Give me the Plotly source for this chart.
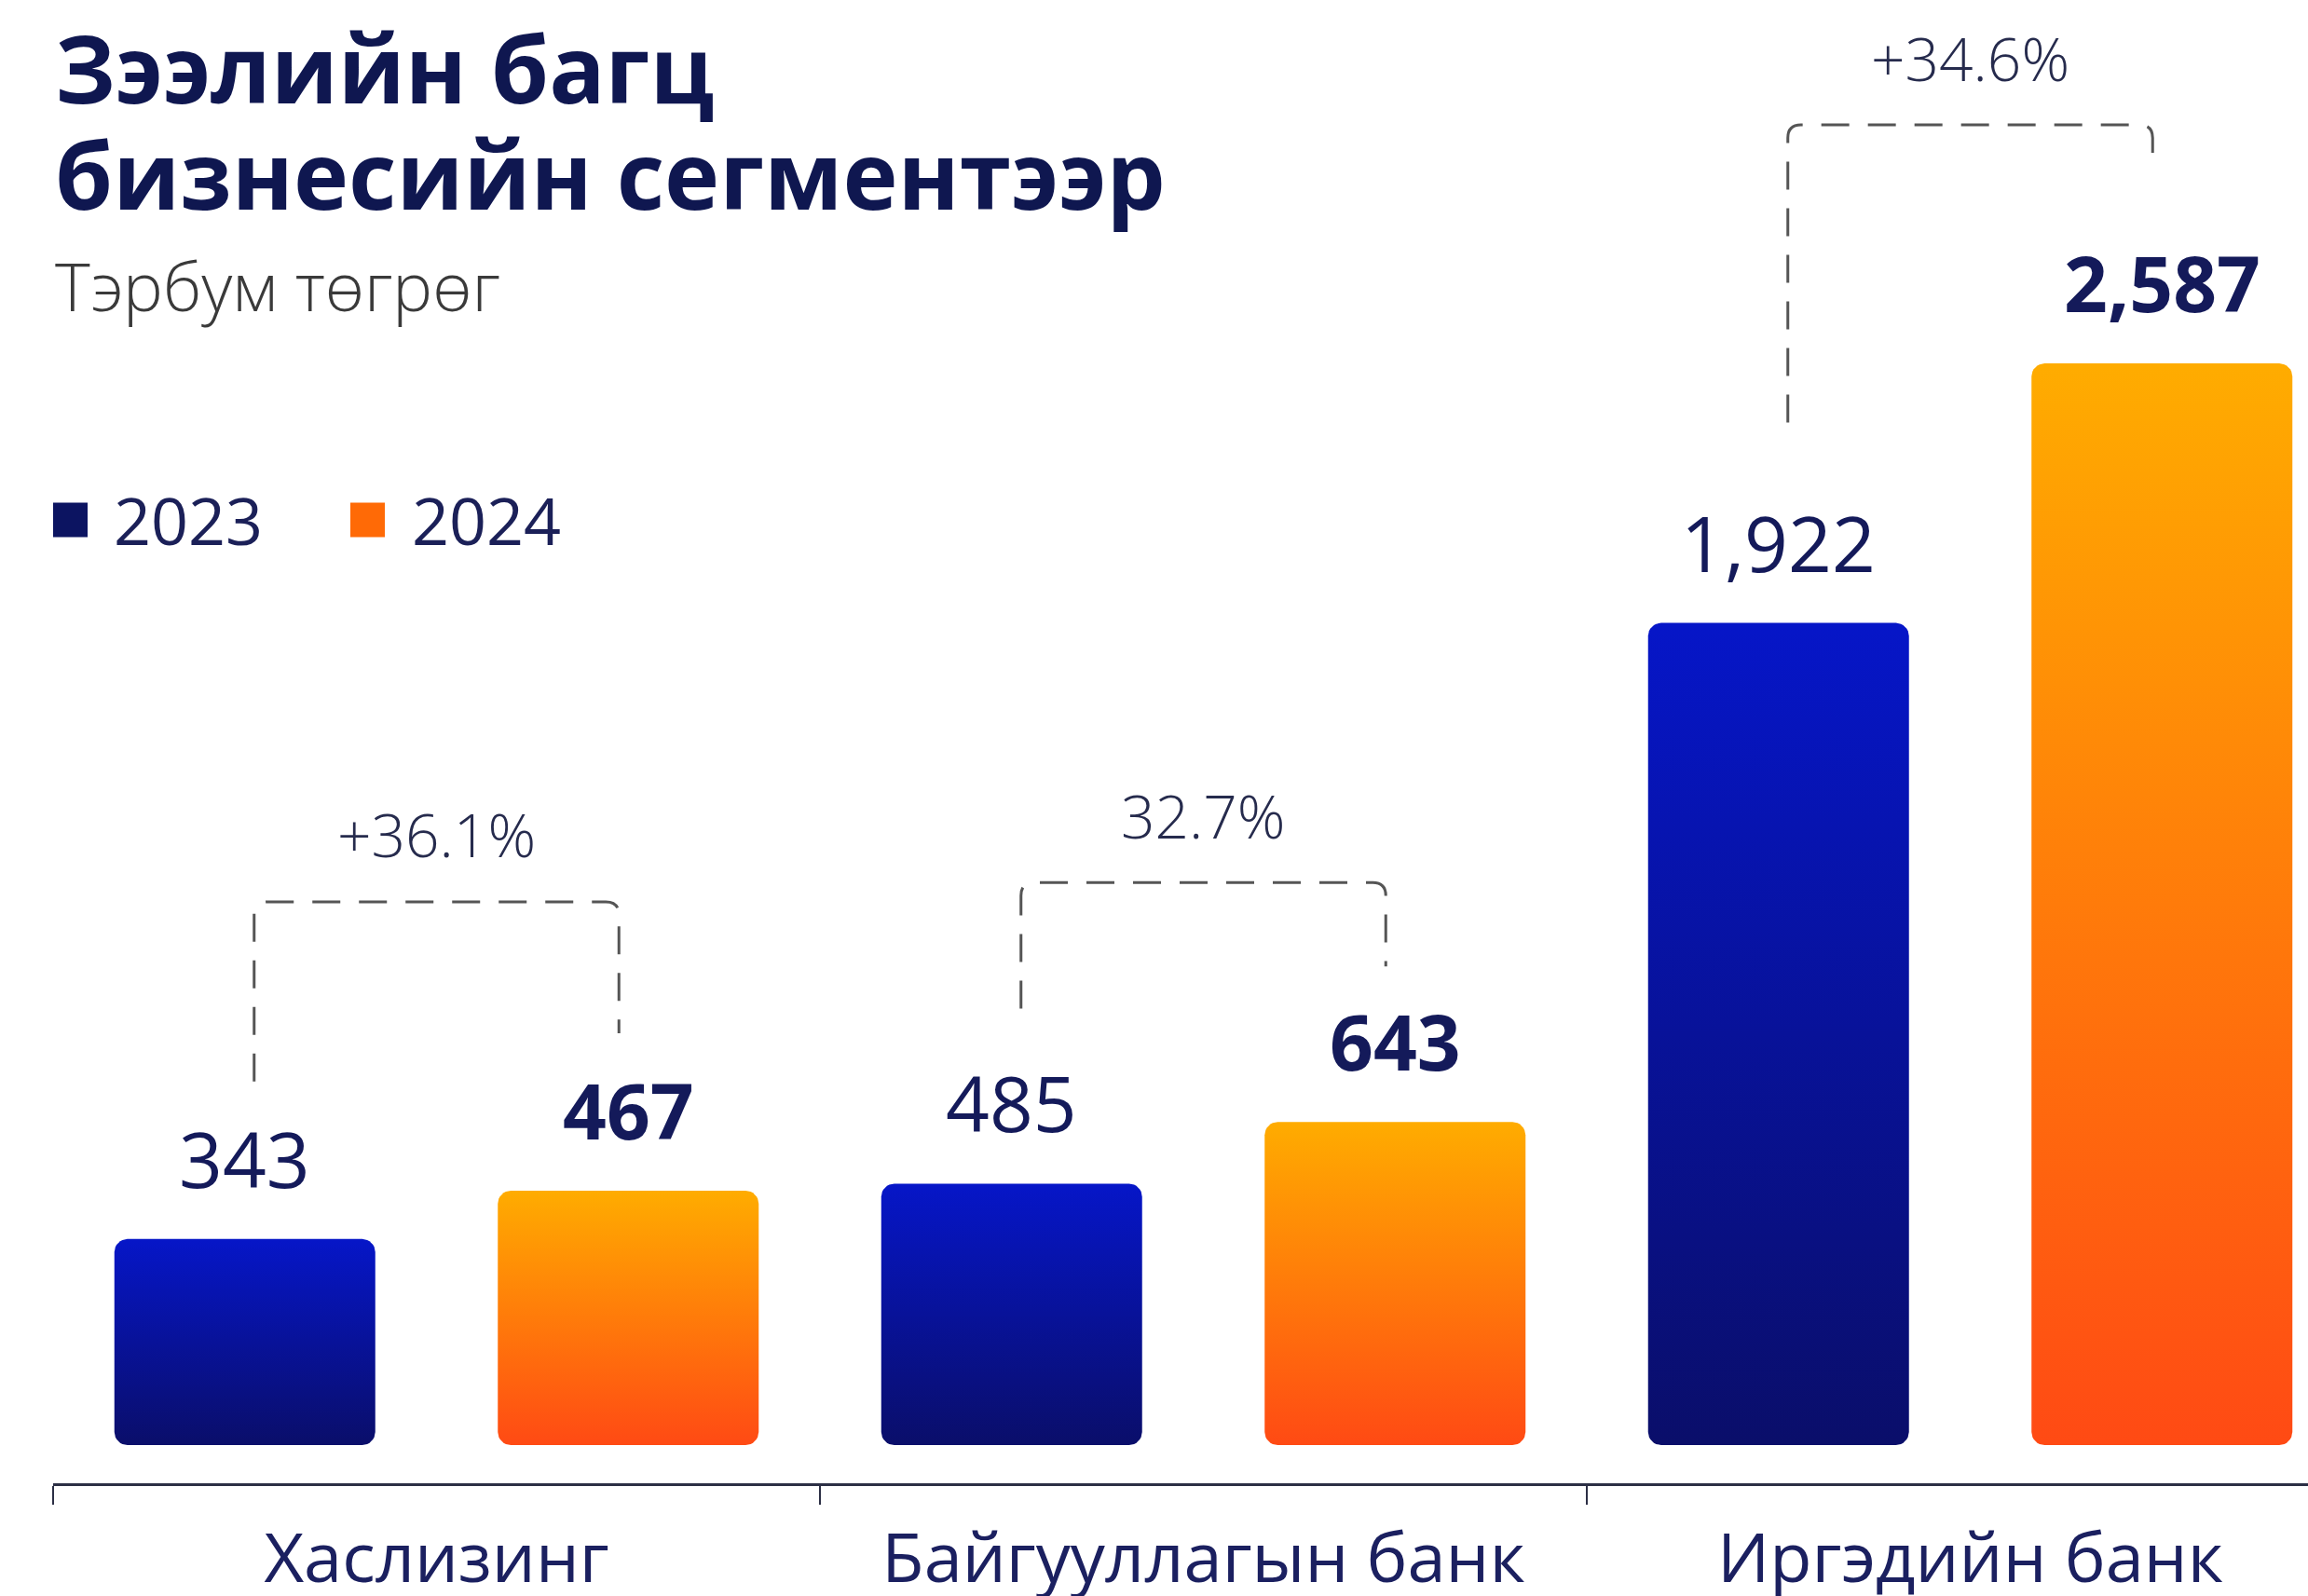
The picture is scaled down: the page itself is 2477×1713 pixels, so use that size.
import numpy as np
import plotly.graph_objects as go

# ---------------- data ----------------
CATEGORIES = ["Хаслизинг", "Байгууллагын банк", "Иргэдийн банк"]
YEARS = ["2023", "2024"]
VALUES_2023 = [343, 485, 1922]
VALUES_2024 = [467, 643, 2587]
GROWTH_LABELS = ["+36.1%", "32.7%", "+34.6%"]
TITLE_LINES = ["Зээлийн багц", "бизнесийн сегментээр"]
SUBTITLE = "Тэрбум төгрөг"

# ---------------- geometry / style ----------------
W, H = 2477, 1713
FONT = "Open Sans"
AXIS_LEFT_PX = 57          # first category boundary
AXIS_Y_PX = 1592           # x-axis line position
CAT_PX = 823               # width of one category slot
FLOOR_VALUE = -185         # the infographic's bars start from a visual floor below zero
FLOOR_PX = 1551
PX_PER_UNIT = 0.4188

X_LO = -0.5
X_HI = -0.5 + (W - AXIS_LEFT_PX) / CAT_PX
Y_LO = FLOOR_VALUE - (AXIS_Y_PX - FLOOR_PX) / PX_PER_UNIT
Y_HI = FLOOR_VALUE + FLOOR_PX / PX_PER_UNIT
X_PER_PX = 1.0 / CAT_PX
Y_PER_PX = 1.0 / PX_PER_UNIT

BAR_OFFSET = 0.25
BAR_HALF_PX = 140
BAR_RADIUS_PX = 14
GRADIENTS = [("#0A0E6A", "#0616C8"), ("#FF4A14", "#FFAC00")]
LEGEND_COLORS = ["#0C1461", "#FF6A06"]
LABEL_WEIGHTS = [500, 700]
LABEL_SIZES = [82, 82]
NAVY = "#141a5a"
LABEL_GAP_PX = 87
BRACKET_INSET_PX = 10
BRACKET_LIFT_PX = [310, 257, 256]
BRACKET_LEG_GAP_PX = [(169, 169), (188, 167), (215, 211)]
BRACKET_RADIUS_PX = 14
GROWTH_GAP_PX = 72


def px_x(p):
    return p / W


def px_y(p):
    return 1 - p / H


def rounded_rect(x0, x1, y0, y1, r_px, n=9):
    rx, ry = r_px * X_PER_PX, r_px * Y_PER_PX
    corners = [(x0 + rx, y0 + ry, 180, 270), (x1 - rx, y0 + ry, 270, 360),
               (x1 - rx, y1 - ry, 0, 90), (x0 + rx, y1 - ry, 90, 180)]
    xs, ys = [], []
    for cx, cy, a0, a1 in corners:
        for t in np.radians(np.linspace(a0, a1, n)):
            xs.append(cx + rx * np.cos(t))
            ys.append(cy + ry * np.sin(t))
    xs.append(xs[0])
    ys.append(ys[0])
    return xs, ys


fig = go.Figure()
annotations = []
shapes = []

series = [VALUES_2023, VALUES_2024]
for s, (year, values) in enumerate(zip(YEARS, series)):
    off = -BAR_OFFSET if s == 0 else BAR_OFFSET
    bottom, top = GRADIENTS[s]
    for i, v in enumerate(values):
        xc = i + off
        half = BAR_HALF_PX * X_PER_PX
        xs, ys = rounded_rect(xc - half, xc + half, FLOOR_VALUE, v, BAR_RADIUS_PX)
        fig.add_trace(go.Scatter(
            x=xs, y=ys, mode="lines", fill="toself",
            line=dict(width=0),
            fillgradient=dict(type="vertical", colorscale=[[0, bottom], [1, top]],
                              start=FLOOR_VALUE, stop=v),
            name=year, showlegend=False, hoverinfo="skip",
        ))
        annotations.append(dict(
            x=xc, y=v, xref="x", yref="y", text=f"{v:,}", showarrow=False,
            yshift=LABEL_GAP_PX, xanchor="center", yanchor="middle",
            font=dict(family=FONT, size=LABEL_SIZES[s], color=NAVY, weight=LABEL_WEIGHTS[s]),
        ))

# growth brackets
for i, (a, b) in enumerate(zip(VALUES_2023, VALUES_2024)):
    xl = i - BAR_OFFSET + BRACKET_INSET_PX * X_PER_PX
    xr = i + BAR_OFFSET - BRACKET_INSET_PX * X_PER_PX
    top = max(a, b) + BRACKET_LIFT_PX[i] * Y_PER_PX
    yl = a + BRACKET_LEG_GAP_PX[i][0] * Y_PER_PX
    yr = b + BRACKET_LEG_GAP_PX[i][1] * Y_PER_PX
    rx, ry = BRACKET_RADIUS_PX * X_PER_PX, BRACKET_RADIUS_PX * Y_PER_PX
    path = (f"M{xl},{yl} L{xl},{top - ry} Q{xl},{top} {xl + rx},{top} "
            f"L{xr - rx},{top} Q{xr},{top} {xr},{top - ry} L{xr},{yr}")
    shapes.append(dict(type="path", path=path, xref="x", yref="y",
                       line=dict(color="#555555", width=3, dash="30px,20px")))
    annotations.append(dict(
        x=i, y=top, xref="x", yref="y", text=GROWTH_LABELS[i], showarrow=False,
        yshift=GROWTH_GAP_PX, xanchor="center", yanchor="middle",
        font=dict(family=FONT, size=64, color="#262b4d", weight=300),
    ))

# titles
annotations.append(dict(x=px_x(57), y=px_y(72), xref="paper", yref="paper",
                        text=TITLE_LINES[0], showarrow=False, xanchor="left", yanchor="middle",
                        font=dict(family=FONT, size=100, color="#0f1750", weight=700)))
annotations.append(dict(x=px_x(57), y=px_y(186), xref="paper", yref="paper",
                        text=TITLE_LINES[1], showarrow=False, xanchor="left", yanchor="middle",
                        font=dict(family=FONT, size=100, color="#0f1750", weight=700)))
annotations.append(dict(x=px_x(57), y=px_y(306), xref="paper", yref="paper",
                        text=SUBTITLE, showarrow=False, xanchor="left", yanchor="middle",
                        font=dict(family=FONT, size=72, color="#3a3a3a", weight=300)))

# legend (manual, large square swatches)
LEGEND_SWATCH_X = [57, 376]
LEGEND_TEXT_X = [120, 440]
LEGEND_Y = 558
SW = 37
for k, year in enumerate(YEARS):
    x0 = LEGEND_SWATCH_X[k]
    shapes.append(dict(type="rect", xref="paper", yref="paper",
                       x0=px_x(x0), x1=px_x(x0 + SW),
                       y0=px_y(LEGEND_Y - SW / 2), y1=px_y(LEGEND_Y + SW / 2),
                       fillcolor=LEGEND_COLORS[k], line=dict(width=0)))
    annotations.append(dict(x=px_x(LEGEND_TEXT_X[k]), y=px_y(LEGEND_Y), xref="paper", yref="paper",
                            text=year, showarrow=False, xanchor="left", yanchor="middle",
                            font=dict(family=FONT, size=70, color="#1b2058", weight=400)))

fig.update_layout(
    width=W, height=H, autosize=False,
    margin=dict(l=0, r=0, t=0, b=0, pad=0),
    paper_bgcolor="white", plot_bgcolor="white",
    showlegend=False,
    annotations=annotations, shapes=shapes,
    xaxis=dict(
        domain=[AXIS_LEFT_PX / W, 1], range=[X_LO, X_HI], type="linear",
        automargin=False,
        tickmode="array", tickvals=list(range(len(CATEGORIES))), ticktext=CATEGORIES,
        ticks="", showgrid=False, zeroline=False,
        showline=True, linecolor="#2c2f45", linewidth=3,
        tickfont=dict(family=FONT, size=74, color="#1b2060"),
        ticklabelstandoff=14,
        minor=dict(tickmode="array", tickvals=[i - 0.5 for i in range(len(CATEGORIES))],
                   ticks="outside", ticklen=20, tickwidth=2, tickcolor="#2c2f45", showgrid=False),
        fixedrange=True,
    ),
    yaxis=dict(
        domain=[(H - AXIS_Y_PX) / H, 1], range=[Y_LO, Y_HI], automargin=False,
        visible=False, showgrid=False, zeroline=False, fixedrange=True,
    ),
)

fig.write_html(
    "out.html",
    config={"displayModeBar": False},
    post_script="document.body.style.margin='0';document.body.style.overflow='hidden';",
)
